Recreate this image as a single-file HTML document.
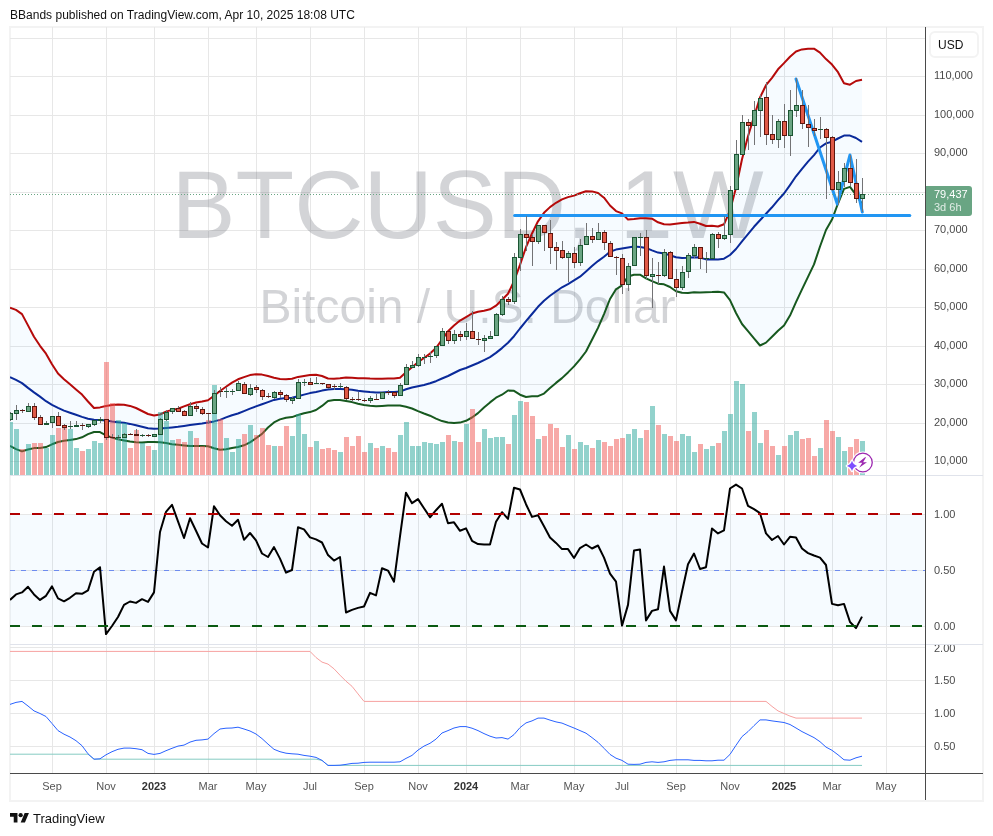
<!DOCTYPE html>
<html><head><meta charset="utf-8"><title>BBands</title>
<style>
html,body{margin:0;padding:0;background:#fff;}
body{width:993px;height:836px;position:relative;overflow:hidden;font-family:"Liberation Sans",Arial,sans-serif;color:#131722;}
.hdr{position:absolute;left:10px;top:8px;font-size:12px;line-height:14px;color:#111;white-space:nowrap;letter-spacing:0.015px;}
.frame{position:absolute;left:9px;top:26px;width:971px;height:772px;border:2px solid #f3f3f3;}
svg{position:absolute;left:0;top:0;}
.pl{position:absolute;left:934px;font-size:11px;line-height:12px;color:#4a4a4a;white-space:nowrap;}
.tl{position:absolute;top:780px;font-size:11px;line-height:12px;color:#555;white-space:nowrap;transform:translateX(-50%);}
.tl b{color:#333;}
.usd{position:absolute;left:929px;top:31px;width:50px;height:27px;border:2px solid #f3f3f3;border-radius:6px;font-size:12px;line-height:24px;text-align:left;padding-left:7px;color:#111;box-sizing:border-box;}
.tag{position:absolute;left:926px;top:186px;width:46px;height:30px;background:#69a583;border-radius:0 3px 3px 0;color:#fff;font-size:11px;line-height:13px;padding:2px 0 0 8px;box-sizing:border-box;}
.tag span{display:block;color:rgba(255,255,255,.8);}
.wm1{position:absolute;left:10px;width:915px;top:150px;text-align:center;font-size:96px;line-height:110px;color:rgba(80,83,94,.25);white-space:nowrap;}
.wm2{position:absolute;left:10px;width:915px;top:280px;text-align:center;font-size:48px;line-height:54px;color:rgba(80,83,94,.25);white-space:nowrap;}
.logo{position:absolute;left:33px;top:811px;font-size:13px;line-height:15px;color:#111;}
</style></head><body>
<div class="hdr">BBands published on TradingView.com, Apr 10, 2025 18:08 UTC</div>
<div class="frame"></div>
<svg width="993" height="836" viewBox="0 0 993 836">
<defs><clipPath id="cm"><rect x="10" y="27" width="915" height="448"/></clipPath>
<clipPath id="c2"><rect x="10" y="476" width="915" height="168"/></clipPath>
<clipPath id="c3"><rect x="10" y="645" width="915" height="128"/></clipPath></defs>
<g shape-rendering="crispEdges">
<rect x="52" y="27" width="1" height="746" fill="#e7e7e7"/>
<rect x="106" y="27" width="1" height="746" fill="#e7e7e7"/>
<rect x="154" y="27" width="1" height="746" fill="#e7e7e7"/>
<rect x="208" y="27" width="1" height="746" fill="#e7e7e7"/>
<rect x="256" y="27" width="1" height="746" fill="#e7e7e7"/>
<rect x="310" y="27" width="1" height="746" fill="#e7e7e7"/>
<rect x="364" y="27" width="1" height="746" fill="#e7e7e7"/>
<rect x="418" y="27" width="1" height="746" fill="#e7e7e7"/>
<rect x="466" y="27" width="1" height="746" fill="#e7e7e7"/>
<rect x="520" y="27" width="1" height="746" fill="#e7e7e7"/>
<rect x="574" y="27" width="1" height="746" fill="#e7e7e7"/>
<rect x="622" y="27" width="1" height="746" fill="#e7e7e7"/>
<rect x="676" y="27" width="1" height="746" fill="#e7e7e7"/>
<rect x="730" y="27" width="1" height="746" fill="#e7e7e7"/>
<rect x="784" y="27" width="1" height="746" fill="#e7e7e7"/>
<rect x="832" y="27" width="1" height="746" fill="#e7e7e7"/>
<rect x="886" y="27" width="1" height="746" fill="#e7e7e7"/>
<rect x="10" y="38" width="915" height="1" fill="#e7e7e7"/>
<rect x="10" y="76" width="915" height="1" fill="#e7e7e7"/>
<rect x="10" y="115" width="915" height="1" fill="#e7e7e7"/>
<rect x="10" y="153" width="915" height="1" fill="#e7e7e7"/>
<rect x="10" y="192" width="915" height="1" fill="#e7e7e7"/>
<rect x="10" y="230" width="915" height="1" fill="#e7e7e7"/>
<rect x="10" y="269" width="915" height="1" fill="#e7e7e7"/>
<rect x="10" y="307" width="915" height="1" fill="#e7e7e7"/>
<rect x="10" y="346" width="915" height="1" fill="#e7e7e7"/>
<rect x="10" y="384" width="915" height="1" fill="#e7e7e7"/>
<rect x="10" y="423" width="915" height="1" fill="#e7e7e7"/>
<rect x="10" y="461" width="915" height="1" fill="#e7e7e7"/>
<rect x="10" y="514" width="915" height="1" fill="#e7e7e7"/>
<rect x="10" y="570" width="915" height="1" fill="#e7e7e7"/>
<rect x="10" y="626" width="915" height="1" fill="#e7e7e7"/>
<rect x="10" y="647" width="915" height="1" fill="#e7e7e7"/>
<rect x="10" y="680" width="915" height="1" fill="#e7e7e7"/>
<rect x="10" y="713" width="915" height="1" fill="#e7e7e7"/>
<rect x="10" y="746" width="915" height="1" fill="#e7e7e7"/>
</g>
</svg>
<div class="wm1">BTCUSD, 1W</div>
<div class="wm2">Bitcoin / U.S. Dollar</div>
<svg width="993" height="836" viewBox="0 0 993 836">
<g clip-path="url(#cm)">
<polygon points="10,307.8 16,309.9 22,314.1 28,325.4 34,336.8 40,345.8 46,353.7 52,364.3 58,373.5 64,379.2 70,384.3 76,389.4 82,394.6 88,401.5 94,408 100,407.4 106,406 112,404.9 118,404.6 124,404.7 130,405.9 136,408 142,411 148,414 154,415.5 160,414.5 166,411.6 172,409.9 178,408.7 184,406.4 190,404.2 196,402.5 202,401.5 208,400.3 214,395.8 220,391 226,386.8 232,382.6 238,379.3 244,377.1 250,375.1 256,374.3 262,374.6 268,376 274,377.7 280,378.9 286,379.2 292,378.7 298,376.9 304,375.9 310,375 316,374.7 322,376 328,378.5 334,378.7 340,378.3 346,377.6 352,377.8 358,378.2 364,378.2 370,378.6 376,378.8 382,378.8 388,378.6 394,378.6 400,377.7 406,372.2 412,367.2 418,362.3 424,358 430,353.6 436,348 442,339.7 448,331.3 454,325.5 460,320.6 466,317.1 472,313.5 478,311.7 484,310.7 490,309.3 496,305.7 502,299.8 508,293.8 514,281.1 520,264.9 526,247.2 532,233.5 538,221.3 544,212.8 550,207.1 556,202.8 562,199.4 568,197.1 574,195.6 580,193.2 586,191.2 592,191.4 598,193 604,197.7 610,205.5 616,211.1 622,213.4 628,219.6 634,219.1 640,218.3 646,218.3 652,218.7 658,222.3 664,224.3 670,224.5 676,223.7 682,223.1 688,222.6 694,221.9 700,223.7 706,226 712,225.8 718,226.5 724,224.3 730,210.5 736,187.7 742,159.2 748,136.3 754,116.9 760,97.5 766,85.2 772,77.8 778,69.3 784,63.1 790,56.7 796,51.5 802,49.4 808,48.7 814,48.7 820,52.6 826,59.1 832,64.6 838,72.2 844,83.2 850,84.7 856,81 862,79.8 862,203.7 856,194.9 850,186.9 844,188.9 838,203.5 832,219.6 826,230 820,246.5 814,264.4 808,276.9 802,289.3 796,302.1 790,315.6 784,325.4 778,330.7 772,336.7 766,342.6 760,345.5 754,338.3 748,331.1 742,324 736,313 730,300.1 724,292.4 718,291.7 712,292.1 706,292.2 700,292.4 694,292.3 688,292.9 682,292.8 676,291.2 670,287 664,284.3 658,283.7 652,281.2 646,278.3 640,274.7 634,274.7 628,276.5 622,285.3 616,289.3 610,299 604,314.1 598,327.9 592,339.7 586,351.5 580,359.3 574,366.4 568,372.4 562,378.1 556,382.9 550,388.1 544,393.6 538,396.2 532,396.3 526,397 520,394.7 514,390.8 508,390.5 502,394.7 496,397.7 490,402.4 484,407.4 478,413.1 472,417.5 466,420.8 460,422.6 454,423.1 448,422.4 442,421.1 436,418.6 430,415.7 424,413.5 418,411.1 412,408.5 406,406.7 400,405.4 394,405.4 388,405.6 382,405.9 376,406.2 370,405.8 364,405 358,403.7 352,402.1 346,401.1 340,400.1 334,400.1 328,400.9 322,405.9 316,410 310,412.1 304,413.3 298,415 292,417.1 286,417.8 280,419.4 274,422.4 268,427.5 262,433.9 256,438.2 250,442.4 244,445.3 238,447 232,448.1 226,449.2 220,449.8 214,448.3 208,446.3 202,446.1 196,446.1 190,446 184,445.4 178,444.8 172,444.2 166,443 160,442.2 154,441.9 148,441.9 142,442.5 136,442.2 130,441.6 124,440.4 118,439.2 112,437.6 106,435.4 100,432.1 94,432 88,434.1 82,437.3 76,439.1 70,440 64,440.8 58,442 52,444.3 46,447.1 40,447.9 34,448.1 28,449.5 22,451.4 16,449.1 10,445.8" fill="#2196f3" fill-opacity="0.04"/>
<polyline points="10,307.8 16,309.9 22,314.1 28,325.4 34,336.8 40,345.8 46,353.7 52,364.3 58,373.5 64,379.2 70,384.3 76,389.4 82,394.6 88,401.5 94,408 100,407.4 106,406 112,404.9 118,404.6 124,404.7 130,405.9 136,408 142,411 148,414 154,415.5 160,414.5 166,411.6 172,409.9 178,408.7 184,406.4 190,404.2 196,402.5 202,401.5 208,400.3 214,395.8 220,391 226,386.8 232,382.6 238,379.3 244,377.1 250,375.1 256,374.3 262,374.6 268,376 274,377.7 280,378.9 286,379.2 292,378.7 298,376.9 304,375.9 310,375 316,374.7 322,376 328,378.5 334,378.7 340,378.3 346,377.6 352,377.8 358,378.2 364,378.2 370,378.6 376,378.8 382,378.8 388,378.6 394,378.6 400,377.7 406,372.2 412,367.2 418,362.3 424,358 430,353.6 436,348 442,339.7 448,331.3 454,325.5 460,320.6 466,317.1 472,313.5 478,311.7 484,310.7 490,309.3 496,305.7 502,299.8 508,293.8 514,281.1 520,264.9 526,247.2 532,233.5 538,221.3 544,212.8 550,207.1 556,202.8 562,199.4 568,197.1 574,195.6 580,193.2 586,191.2 592,191.4 598,193 604,197.7 610,205.5 616,211.1 622,213.4 628,219.6 634,219.1 640,218.3 646,218.3 652,218.7 658,222.3 664,224.3 670,224.5 676,223.7 682,223.1 688,222.6 694,221.9 700,223.7 706,226 712,225.8 718,226.5 724,224.3 730,210.5 736,187.7 742,159.2 748,136.3 754,116.9 760,97.5 766,85.2 772,77.8 778,69.3 784,63.1 790,56.7 796,51.5 802,49.4 808,48.7 814,48.7 820,52.6 826,59.1 832,64.6 838,72.2 844,83.2 850,84.7 856,81 862,79.8" fill="none" stroke="#b50a0a" stroke-width="2" stroke-linejoin="round"/>
<polyline points="10,377.1 16,379.8 22,383.1 28,387.9 34,392.4 40,396.6 46,401.2 52,404.8 58,407.9 64,410.6 70,412.7 76,414.8 82,416.9 88,418.7 94,419.7 100,420.1 106,420.6 112,421.5 118,422.2 124,422.8 130,423.9 136,425.3 142,426.7 148,428.2 154,428.8 160,428.6 166,428 172,427.4 178,426.8 184,425.9 190,425 196,424.2 202,423.5 208,422.6 214,421.4 220,419.9 226,417.4 232,415.2 238,413.5 244,411.1 250,408.6 256,406.4 262,404.3 268,402.1 274,399.9 280,398.7 286,398 292,397.7 298,396.3 304,394.6 310,393.1 316,392 322,390.6 328,389.4 334,389 340,389 346,389.3 352,389.8 358,390.8 364,391.5 370,392.1 376,392.4 382,392.4 388,392.1 394,391.9 400,391.6 406,389.3 412,387.5 418,386.2 424,385 430,383.2 436,381.2 442,378.5 448,376 454,373 460,370 466,368 472,365.5 478,363 484,360.1 490,357.1 496,352.9 502,348.1 508,342.7 514,336.2 520,328.5 526,321.2 532,314 538,306.8 544,300.7 550,295.8 556,291.5 562,287.3 568,284.1 574,280.4 580,276.7 586,271.5 592,266.1 598,261.1 604,256.7 610,251.7 616,249.6 622,248.5 628,247.4 634,246.6 640,247 646,247.9 652,250.4 658,252.6 664,253.4 670,255.2 676,257.2 682,258.1 688,257.8 694,257.3 700,257.6 706,259.4 712,259.3 718,259.6 724,258.7 730,255 736,249 742,241.3 748,234.1 754,226.8 760,220.3 766,213.8 772,207.3 778,200.1 784,193.5 790,185.1 796,176.3 802,168.8 808,161.6 814,155.1 820,147.5 826,143.4 832,141.7 838,138.5 844,135.6 850,135.6 856,138 862,141.8" fill="none" stroke="#0a2a9a" stroke-width="2" stroke-linejoin="round"/>
<polyline points="10,445.8 16,449.1 22,451.4 28,449.5 34,448.1 40,447.9 46,447.1 52,444.3 58,442 64,440.8 70,440 76,439.1 82,437.3 88,434.1 94,432 100,432.1 106,435.4 112,437.6 118,439.2 124,440.4 130,441.6 136,442.2 142,442.5 148,441.9 154,441.9 160,442.2 166,443 172,444.2 178,444.8 184,445.4 190,446 196,446.1 202,446.1 208,446.3 214,448.3 220,449.8 226,449.2 232,448.1 238,447 244,445.3 250,442.4 256,438.2 262,433.9 268,427.5 274,422.4 280,419.4 286,417.8 292,417.1 298,415 304,413.3 310,412.1 316,410 322,405.9 328,400.9 334,400.1 340,400.1 346,401.1 352,402.1 358,403.7 364,405 370,405.8 376,406.2 382,405.9 388,405.6 394,405.4 400,405.4 406,406.7 412,408.5 418,411.1 424,413.5 430,415.7 436,418.6 442,421.1 448,422.4 454,423.1 460,422.6 466,420.8 472,417.5 478,413.1 484,407.4 490,402.4 496,397.7 502,394.7 508,390.5 514,390.8 520,394.7 526,397 532,396.3 538,396.2 544,393.6 550,388.1 556,382.9 562,378.1 568,372.4 574,366.4 580,359.3 586,351.5 592,339.7 598,327.9 604,314.1 610,299 616,289.3 622,285.3 628,276.5 634,274.7 640,274.7 646,278.3 652,281.2 658,283.7 664,284.3 670,287 676,291.2 682,292.8 688,292.9 694,292.3 700,292.4 706,292.2 712,292.1 718,291.7 724,292.4 730,300.1 736,313 742,324 748,331.1 754,338.3 760,345.5 766,342.6 772,336.7 778,330.7 784,325.4 790,315.6 796,302.1 802,289.3 808,276.9 814,264.4 820,246.5 826,230 832,219.6 838,203.5 844,188.9 850,186.9 856,194.9 862,203.7" fill="none" stroke="#17591f" stroke-width="2" stroke-linejoin="round"/>
<g shape-rendering="crispEdges" fill="#26a69a" fill-opacity="0.5"><rect x="8" y="422" width="5" height="53"/><rect x="14" y="429" width="5" height="46"/><rect x="26" y="444" width="5" height="31"/><rect x="44" y="448" width="5" height="27"/><rect x="50" y="435" width="5" height="40"/><rect x="68" y="429" width="5" height="46"/><rect x="74" y="448" width="5" height="27"/><rect x="86" y="449" width="5" height="26"/><rect x="92" y="441" width="5" height="34"/><rect x="98" y="443" width="5" height="32"/><rect x="116" y="420" width="5" height="55"/><rect x="122" y="423" width="5" height="52"/><rect x="140" y="443" width="5" height="32"/><rect x="152" y="450" width="5" height="25"/><rect x="158" y="412" width="5" height="63"/><rect x="164" y="421" width="5" height="54"/><rect x="170" y="440" width="5" height="35"/><rect x="188" y="431" width="5" height="44"/><rect x="212" y="385" width="5" height="90"/><rect x="224" y="438" width="5" height="37"/><rect x="230" y="452" width="5" height="23"/><rect x="236" y="439" width="5" height="36"/><rect x="248" y="425" width="5" height="50"/><rect x="272" y="446" width="5" height="29"/><rect x="290" y="436" width="5" height="39"/><rect x="296" y="414" width="5" height="61"/><rect x="302" y="434" width="5" height="41"/><rect x="314" y="441" width="5" height="34"/><rect x="338" y="452" width="5" height="23"/><rect x="368" y="443" width="5" height="32"/><rect x="380" y="446" width="5" height="29"/><rect x="398" y="435" width="5" height="40"/><rect x="404" y="422" width="5" height="53"/><rect x="410" y="446" width="5" height="29"/><rect x="416" y="446" width="5" height="29"/><rect x="422" y="442" width="5" height="33"/><rect x="428" y="443" width="5" height="32"/><rect x="434" y="444" width="5" height="31"/><rect x="440" y="442" width="5" height="33"/><rect x="452" y="441" width="5" height="34"/><rect x="464" y="424" width="5" height="51"/><rect x="482" y="429" width="5" height="46"/><rect x="488" y="438" width="5" height="37"/><rect x="494" y="437" width="5" height="38"/><rect x="500" y="437" width="5" height="38"/><rect x="512" y="415" width="5" height="60"/><rect x="518" y="401" width="5" height="74"/><rect x="536" y="439" width="5" height="36"/><rect x="566" y="435" width="5" height="40"/><rect x="578" y="442" width="5" height="33"/><rect x="584" y="445" width="5" height="30"/><rect x="596" y="440" width="5" height="35"/><rect x="626" y="434" width="5" height="41"/><rect x="632" y="429" width="5" height="46"/><rect x="638" y="438" width="5" height="37"/><rect x="650" y="406" width="5" height="69"/><rect x="662" y="434" width="5" height="41"/><rect x="680" y="434" width="5" height="41"/><rect x="686" y="436" width="5" height="39"/><rect x="692" y="452" width="5" height="23"/><rect x="704" y="449" width="5" height="26"/><rect x="710" y="446" width="5" height="29"/><rect x="722" y="431" width="5" height="44"/><rect x="728" y="414" width="5" height="61"/><rect x="734" y="381" width="5" height="94"/><rect x="740" y="384" width="5" height="91"/><rect x="752" y="412" width="5" height="63"/><rect x="758" y="443" width="5" height="32"/><rect x="776" y="455" width="5" height="20"/><rect x="788" y="435" width="5" height="40"/><rect x="794" y="431" width="5" height="44"/><rect x="818" y="448" width="5" height="27"/><rect x="836" y="437" width="5" height="38"/><rect x="842" y="451" width="5" height="24"/><rect x="860" y="441" width="5" height="34"/></g>
<g shape-rendering="crispEdges" fill="#ef5350" fill-opacity="0.5"><rect x="20" y="449" width="5" height="26"/><rect x="32" y="443" width="5" height="32"/><rect x="38" y="443" width="5" height="32"/><rect x="56" y="428" width="5" height="47"/><rect x="62" y="426" width="5" height="49"/><rect x="80" y="451" width="5" height="24"/><rect x="104" y="362" width="5" height="113"/><rect x="110" y="403" width="5" height="72"/><rect x="128" y="448" width="5" height="27"/><rect x="134" y="430" width="5" height="45"/><rect x="146" y="446" width="5" height="29"/><rect x="176" y="439" width="5" height="36"/><rect x="182" y="442" width="5" height="33"/><rect x="194" y="438" width="5" height="37"/><rect x="200" y="446" width="5" height="29"/><rect x="206" y="420" width="5" height="55"/><rect x="218" y="419" width="5" height="56"/><rect x="242" y="434" width="5" height="41"/><rect x="254" y="435" width="5" height="40"/><rect x="260" y="428" width="5" height="47"/><rect x="266" y="445" width="5" height="30"/><rect x="278" y="446" width="5" height="29"/><rect x="284" y="426" width="5" height="49"/><rect x="308" y="447" width="5" height="28"/><rect x="320" y="449" width="5" height="26"/><rect x="326" y="448" width="5" height="27"/><rect x="332" y="450" width="5" height="25"/><rect x="344" y="437" width="5" height="38"/><rect x="350" y="446" width="5" height="29"/><rect x="356" y="436" width="5" height="39"/><rect x="362" y="452" width="5" height="23"/><rect x="374" y="448" width="5" height="27"/><rect x="386" y="448" width="5" height="27"/><rect x="392" y="452" width="5" height="23"/><rect x="446" y="435" width="5" height="40"/><rect x="458" y="442" width="5" height="33"/><rect x="470" y="409" width="5" height="66"/><rect x="476" y="442" width="5" height="33"/><rect x="506" y="444" width="5" height="31"/><rect x="524" y="402" width="5" height="73"/><rect x="530" y="416" width="5" height="59"/><rect x="542" y="436" width="5" height="39"/><rect x="548" y="424" width="5" height="51"/><rect x="554" y="428" width="5" height="47"/><rect x="560" y="447" width="5" height="28"/><rect x="572" y="449" width="5" height="26"/><rect x="590" y="448" width="5" height="27"/><rect x="602" y="442" width="5" height="33"/><rect x="608" y="446" width="5" height="29"/><rect x="614" y="439" width="5" height="36"/><rect x="620" y="438" width="5" height="37"/><rect x="644" y="430" width="5" height="45"/><rect x="656" y="425" width="5" height="50"/><rect x="668" y="436" width="5" height="39"/><rect x="674" y="441" width="5" height="34"/><rect x="698" y="444" width="5" height="31"/><rect x="716" y="443" width="5" height="32"/><rect x="746" y="431" width="5" height="44"/><rect x="764" y="430" width="5" height="45"/><rect x="770" y="446" width="5" height="29"/><rect x="782" y="446" width="5" height="29"/><rect x="800" y="439" width="5" height="36"/><rect x="806" y="438" width="5" height="37"/><rect x="812" y="456" width="5" height="19"/><rect x="824" y="420" width="5" height="55"/><rect x="830" y="431" width="5" height="44"/><rect x="848" y="447" width="5" height="28"/><rect x="854" y="439" width="5" height="36"/></g>
<line x1="514.6" y1="215.4" x2="909.8" y2="215.4" stroke="#2196f3" stroke-width="3" stroke-linecap="round"/>
<polyline points="796,79 837.3,204 850,155 862.3,212" fill="none" stroke="#2196f3" stroke-width="3" stroke-linejoin="round" stroke-linecap="round"/>
<line x1="10" y1="194.5" x2="925" y2="194.5" stroke="#69a583" stroke-width="1" stroke-dasharray="1 2" shape-rendering="crispEdges"/>
<g shape-rendering="crispEdges" fill="#737375"><rect x="10" y="412" width="1" height="9"/><rect x="16" y="405" width="1" height="15"/><rect x="22" y="409" width="1" height="4"/><rect x="28" y="403" width="1" height="9"/><rect x="34" y="403" width="1" height="17"/><rect x="40" y="415" width="1" height="10"/><rect x="46" y="421" width="1" height="4"/><rect x="52" y="416" width="1" height="12"/><rect x="58" y="412" width="1" height="14"/><rect x="64" y="424" width="1" height="6"/><rect x="70" y="421" width="1" height="8"/><rect x="76" y="421" width="1" height="6"/><rect x="82" y="423" width="1" height="7"/><rect x="88" y="424" width="1" height="4"/><rect x="94" y="420" width="1" height="6"/><rect x="100" y="417" width="1" height="6"/><rect x="106" y="419" width="1" height="21"/><rect x="112" y="434" width="1" height="5"/><rect x="118" y="435" width="1" height="5"/><rect x="124" y="433" width="1" height="5"/><rect x="130" y="433" width="1" height="2"/><rect x="136" y="429" width="1" height="7"/><rect x="142" y="434" width="1" height="3"/><rect x="148" y="434" width="1" height="3"/><rect x="154" y="434" width="1" height="3"/><rect x="160" y="418" width="1" height="17"/><rect x="166" y="410" width="1" height="11"/><rect x="172" y="408" width="1" height="6"/><rect x="178" y="406" width="1" height="6"/><rect x="184" y="410" width="1" height="6"/><rect x="190" y="402" width="1" height="14"/><rect x="196" y="404" width="1" height="8"/><rect x="202" y="407" width="1" height="8"/><rect x="208" y="413" width="1" height="11"/><rect x="214" y="390" width="1" height="24"/><rect x="220" y="387" width="1" height="10"/><rect x="226" y="387" width="1" height="11"/><rect x="232" y="389" width="1" height="6"/><rect x="238" y="381" width="1" height="10"/><rect x="244" y="382" width="1" height="12"/><rect x="250" y="384" width="1" height="12"/><rect x="256" y="385" width="1" height="8"/><rect x="262" y="389" width="1" height="11"/><rect x="268" y="393" width="1" height="5"/><rect x="274" y="391" width="1" height="8"/><rect x="280" y="390" width="1" height="8"/><rect x="286" y="394" width="1" height="8"/><rect x="292" y="397" width="1" height="7"/><rect x="298" y="379" width="1" height="20"/><rect x="304" y="379" width="1" height="7"/><rect x="310" y="378" width="1" height="7"/><rect x="316" y="377" width="1" height="7"/><rect x="322" y="383" width="1" height="2"/><rect x="328" y="384" width="1" height="5"/><rect x="334" y="384" width="1" height="6"/><rect x="340" y="383" width="1" height="5"/><rect x="346" y="386" width="1" height="14"/><rect x="352" y="397" width="1" height="5"/><rect x="358" y="392" width="1" height="9"/><rect x="364" y="398" width="1" height="4"/><rect x="370" y="396" width="1" height="7"/><rect x="376" y="394" width="1" height="6"/><rect x="382" y="392" width="1" height="7"/><rect x="388" y="390" width="1" height="5"/><rect x="394" y="392" width="1" height="6"/><rect x="400" y="383" width="1" height="13"/><rect x="406" y="364" width="1" height="21"/><rect x="412" y="361" width="1" height="7"/><rect x="418" y="354" width="1" height="13"/><rect x="424" y="354" width="1" height="10"/><rect x="430" y="352" width="1" height="11"/><rect x="436" y="346" width="1" height="12"/><rect x="442" y="328" width="1" height="18"/><rect x="448" y="331" width="1" height="13"/><rect x="454" y="330" width="1" height="14"/><rect x="460" y="331" width="1" height="10"/><rect x="466" y="323" width="1" height="17"/><rect x="472" y="311" width="1" height="28"/><rect x="478" y="332" width="1" height="13"/><rect x="484" y="335" width="1" height="17"/><rect x="490" y="331" width="1" height="8"/><rect x="496" y="313" width="1" height="23"/><rect x="502" y="296" width="1" height="20"/><rect x="508" y="297" width="1" height="8"/><rect x="514" y="253" width="1" height="51"/><rect x="520" y="229" width="1" height="42"/><rect x="526" y="216" width="1" height="35"/><rect x="532" y="234" width="1" height="32"/><rect x="538" y="225" width="1" height="19"/><rect x="544" y="225" width="1" height="26"/><rect x="550" y="220" width="1" height="44"/><rect x="556" y="242" width="1" height="28"/><rect x="562" y="241" width="1" height="18"/><rect x="568" y="251" width="1" height="31"/><rect x="574" y="247" width="1" height="21"/><rect x="580" y="239" width="1" height="27"/><rect x="586" y="223" width="1" height="22"/><rect x="592" y="228" width="1" height="15"/><rect x="598" y="223" width="1" height="17"/><rect x="604" y="230" width="1" height="20"/><rect x="610" y="241" width="1" height="16"/><rect x="616" y="256" width="1" height="19"/><rect x="622" y="254" width="1" height="40"/><rect x="628" y="263" width="1" height="28"/><rect x="634" y="237" width="1" height="29"/><rect x="640" y="233" width="1" height="23"/><rect x="646" y="230" width="1" height="49"/><rect x="652" y="258" width="1" height="50"/><rect x="658" y="262" width="1" height="22"/><rect x="664" y="249" width="1" height="28"/><rect x="670" y="251" width="1" height="28"/><rect x="676" y="269" width="1" height="28"/><rect x="682" y="266" width="1" height="24"/><rect x="688" y="253" width="1" height="25"/><rect x="694" y="244" width="1" height="14"/><rect x="700" y="247" width="1" height="22"/><rect x="706" y="252" width="1" height="21"/><rect x="712" y="233" width="1" height="26"/><rect x="718" y="232" width="1" height="16"/><rect x="724" y="216" width="1" height="24"/><rect x="730" y="186" width="1" height="57"/><rect x="736" y="140" width="1" height="50"/><rect x="742" y="115" width="1" height="40"/><rect x="748" y="119" width="1" height="31"/><rect x="754" y="101" width="1" height="44"/><rect x="760" y="95" width="1" height="42"/><rect x="766" y="82" width="1" height="63"/><rect x="772" y="115" width="1" height="29"/><rect x="778" y="119" width="1" height="29"/><rect x="784" y="104" width="1" height="44"/><rect x="790" y="90" width="1" height="66"/><rect x="796" y="78" width="1" height="39"/><rect x="802" y="90" width="1" height="39"/><rect x="808" y="105" width="1" height="42"/><rect x="814" y="119" width="1" height="17"/><rect x="820" y="117" width="1" height="22"/><rect x="826" y="128" width="1" height="71"/><rect x="832" y="136" width="1" height="55"/><rect x="838" y="171" width="1" height="34"/><rect x="844" y="163" width="1" height="24"/><rect x="850" y="155" width="1" height="31"/><rect x="856" y="159" width="1" height="44"/><rect x="862" y="178" width="1" height="34"/></g>
<g shape-rendering="crispEdges" fill="#6aa583" stroke="#1b5432" stroke-width="1"><rect x="8.5" y="413.5" width="4" height="6"/><rect x="14.5" y="410.5" width="4" height="3"/><rect x="26.5" y="406.5" width="4" height="5"/><rect x="44" y="423" width="5" height="2" stroke="none" fill="#1b5432"/><rect x="50.5" y="416.5" width="4" height="6"/><rect x="68" y="426" width="5" height="1" stroke="none" fill="#1b5432"/><rect x="74" y="425" width="5" height="2" stroke="none" fill="#1b5432"/><rect x="86.5" y="424.5" width="4" height="2"/><rect x="92.5" y="420.5" width="4" height="4"/><rect x="98" y="419" width="5" height="2" stroke="none" fill="#1b5432"/><rect x="116" y="437" width="5" height="1" stroke="none" fill="#1b5432"/><rect x="122.5" y="434.5" width="4" height="3"/><rect x="140" y="435" width="5" height="1" stroke="none" fill="#1b5432"/><rect x="152.5" y="434.5" width="4" height="2"/><rect x="158.5" y="419.5" width="4" height="15"/><rect x="164.5" y="412.5" width="4" height="7"/><rect x="170.5" y="408.5" width="4" height="3"/><rect x="188.5" y="406.5" width="4" height="9"/><rect x="212.5" y="393.5" width="4" height="20"/><rect x="224" y="391" width="5" height="1" stroke="none" fill="#1b5432"/><rect x="230" y="391" width="5" height="1" stroke="none" fill="#1b5432"/><rect x="236.5" y="383.5" width="4" height="7"/><rect x="248.5" y="388.5" width="4" height="6"/><rect x="272.5" y="392.5" width="4" height="5"/><rect x="290.5" y="398.5" width="4" height="2"/><rect x="296.5" y="382.5" width="4" height="16"/><rect x="302" y="382" width="5" height="1" stroke="none" fill="#1b5432"/><rect x="314" y="383" width="5" height="1" stroke="none" fill="#1b5432"/><rect x="338" y="386" width="5" height="1" stroke="none" fill="#1b5432"/><rect x="368.5" y="398.5" width="4" height="2"/><rect x="380.5" y="392.5" width="4" height="6"/><rect x="398.5" y="385.5" width="4" height="10"/><rect x="404.5" y="367.5" width="4" height="17"/><rect x="410.5" y="365.5" width="4" height="2"/><rect x="416.5" y="357.5" width="4" height="8"/><rect x="422" y="357" width="5" height="1" stroke="none" fill="#1b5432"/><rect x="428" y="356" width="5" height="1" stroke="none" fill="#1b5432"/><rect x="434.5" y="346.5" width="4" height="9"/><rect x="440.5" y="331.5" width="4" height="14"/><rect x="452.5" y="334.5" width="4" height="6"/><rect x="464.5" y="331.5" width="4" height="5"/><rect x="482.5" y="338.5" width="4" height="2"/><rect x="488.5" y="336.5" width="4" height="2"/><rect x="494.5" y="314.5" width="4" height="21"/><rect x="500.5" y="299.5" width="4" height="15"/><rect x="512.5" y="257.5" width="4" height="44"/><rect x="518.5" y="234.5" width="4" height="23"/><rect x="536.5" y="225.5" width="4" height="16"/><rect x="566.5" y="253.5" width="4" height="4"/><rect x="578.5" y="245.5" width="4" height="17"/><rect x="584.5" y="236.5" width="4" height="8"/><rect x="596.5" y="232.5" width="4" height="7"/><rect x="626.5" y="266.5" width="4" height="18"/><rect x="632.5" y="237.5" width="4" height="28"/><rect x="638" y="237" width="5" height="1" stroke="none" fill="#1b5432"/><rect x="650.5" y="274.5" width="4" height="2"/><rect x="662.5" y="252.5" width="4" height="23"/><rect x="680.5" y="272.5" width="4" height="15"/><rect x="686.5" y="255.5" width="4" height="16"/><rect x="692.5" y="247.5" width="4" height="8"/><rect x="704" y="258" width="5" height="1" stroke="none" fill="#1b5432"/><rect x="710.5" y="234.5" width="4" height="24"/><rect x="722.5" y="235.5" width="4" height="3"/><rect x="728.5" y="190.5" width="4" height="44"/><rect x="734.5" y="154.5" width="4" height="35"/><rect x="740.5" y="122.5" width="4" height="32"/><rect x="752.5" y="110.5" width="4" height="15"/><rect x="758.5" y="98.5" width="4" height="12"/><rect x="776.5" y="121.5" width="4" height="18"/><rect x="788.5" y="110.5" width="4" height="25"/><rect x="794.5" y="105.5" width="4" height="5"/><rect x="818" y="129" width="5" height="1" stroke="none" fill="#1b5432"/><rect x="836.5" y="182.5" width="4" height="7"/><rect x="842.5" y="168.5" width="4" height="13"/><rect x="860.5" y="194.5" width="4" height="4"/></g>
<g shape-rendering="crispEdges" fill="#e05a47" stroke="#5e150d" stroke-width="1"><rect x="20" y="410" width="5" height="1" stroke="none" fill="#5e150d"/><rect x="32.5" y="406.5" width="4" height="11"/><rect x="38.5" y="417.5" width="4" height="7"/><rect x="56.5" y="416.5" width="4" height="9"/><rect x="62.5" y="425.5" width="4" height="2"/><rect x="80" y="425" width="5" height="1" stroke="none" fill="#5e150d"/><rect x="104.5" y="419.5" width="4" height="18"/><rect x="110" y="437" width="5" height="1" stroke="none" fill="#5e150d"/><rect x="128" y="434" width="5" height="1" stroke="none" fill="#5e150d"/><rect x="134" y="434" width="5" height="2" stroke="none" fill="#5e150d"/><rect x="146" y="435" width="5" height="1" stroke="none" fill="#5e150d"/><rect x="176.5" y="408.5" width="4" height="3"/><rect x="182.5" y="411.5" width="4" height="4"/><rect x="194.5" y="406.5" width="4" height="2"/><rect x="200.5" y="409.5" width="4" height="4"/><rect x="206" y="413" width="5" height="1" stroke="none" fill="#5e150d"/><rect x="218" y="391" width="5" height="1" stroke="none" fill="#5e150d"/><rect x="242.5" y="384.5" width="4" height="9"/><rect x="254.5" y="387.5" width="4" height="2"/><rect x="260.5" y="390.5" width="4" height="6"/><rect x="266" y="396" width="5" height="1" stroke="none" fill="#5e150d"/><rect x="278.5" y="392.5" width="4" height="2"/><rect x="284.5" y="395.5" width="4" height="4"/><rect x="308.5" y="382.5" width="4" height="2"/><rect x="320" y="383" width="5" height="1" stroke="none" fill="#5e150d"/><rect x="326.5" y="384.5" width="4" height="3"/><rect x="332" y="386" width="5" height="1" stroke="none" fill="#5e150d"/><rect x="344.5" y="387.5" width="4" height="11"/><rect x="350" y="399" width="5" height="1" stroke="none" fill="#5e150d"/><rect x="356" y="399" width="5" height="1" stroke="none" fill="#5e150d"/><rect x="362" y="400" width="5" height="1" stroke="none" fill="#5e150d"/><rect x="374" y="399" width="5" height="1" stroke="none" fill="#5e150d"/><rect x="386" y="392" width="5" height="1" stroke="none" fill="#5e150d"/><rect x="392.5" y="392.5" width="4" height="3"/><rect x="446.5" y="331.5" width="4" height="9"/><rect x="458.5" y="334.5" width="4" height="2"/><rect x="470.5" y="331.5" width="4" height="7"/><rect x="476" y="339" width="5" height="1" stroke="none" fill="#5e150d"/><rect x="506.5" y="299.5" width="4" height="2"/><rect x="524.5" y="234.5" width="4" height="3"/><rect x="530.5" y="237.5" width="4" height="4"/><rect x="542.5" y="225.5" width="4" height="7"/><rect x="548.5" y="233.5" width="4" height="14"/><rect x="554.5" y="247.5" width="4" height="3"/><rect x="560.5" y="250.5" width="4" height="7"/><rect x="572.5" y="253.5" width="4" height="9"/><rect x="590.5" y="236.5" width="4" height="3"/><rect x="602.5" y="232.5" width="4" height="10"/><rect x="608.5" y="243.5" width="4" height="13"/><rect x="614" y="257" width="5" height="1" stroke="none" fill="#5e150d"/><rect x="620.5" y="258.5" width="4" height="26"/><rect x="644.5" y="237.5" width="4" height="38"/><rect x="656" y="275" width="5" height="1" stroke="none" fill="#5e150d"/><rect x="668.5" y="252.5" width="4" height="26"/><rect x="674.5" y="279.5" width="4" height="8"/><rect x="698.5" y="247.5" width="4" height="11"/><rect x="716.5" y="234.5" width="4" height="4"/><rect x="746.5" y="122.5" width="4" height="3"/><rect x="764.5" y="97.5" width="4" height="37"/><rect x="770.5" y="134.5" width="4" height="5"/><rect x="782.5" y="121.5" width="4" height="14"/><rect x="800.5" y="105.5" width="4" height="18"/><rect x="806.5" y="124.5" width="4" height="3"/><rect x="812.5" y="128.5" width="4" height="2"/><rect x="824.5" y="129.5" width="4" height="8"/><rect x="830.5" y="137.5" width="4" height="52"/><rect x="848.5" y="168.5" width="4" height="14"/><rect x="854.5" y="183.5" width="4" height="15"/></g>
</g>
<g>
<circle cx="862.85" cy="462.5" r="11" fill="#fff"/>
<circle cx="862.85" cy="462.5" r="9.4" fill="#fff" stroke="#9c27b0" stroke-width="1.3"/>
<polygon points="865.3,457.1 858.2,462.7 862.3,462.8 859.1,467.8 867,462.3 863.1,462.2 865.9,457.4" fill="#9c27b0"/>
<path d="M852,460.8 Q853.1,464.8 857.1,465.9 Q853.1,467 852,471 Q850.9,467 846.9,465.9 Q850.9,464.8 852,460.8Z" fill="#7c4dff" stroke="#fff" stroke-width="2.6" paint-order="stroke" stroke-linejoin="round"/>
</g>
<g clip-path="url(#c2)">
<rect x="10" y="515" width="915" height="111" fill="#2196f3" fill-opacity="0.04"/>
<line x1="10" y1="570.5" x2="925" y2="570.5" stroke="#6e8cef" stroke-width="1" stroke-dasharray="5 6" shape-rendering="crispEdges"/>
<polyline points="10,599.9 16,594.4 22,592.4 28,586.8 34,594.4 40,599.9 46,595.8 52,586.4 58,598.4 64,601.3 70,597.8 76,593.2 82,593.8 88,590.4 94,571.7 100,567.2 106,634.1 112,626 118,617 124,604.9 130,601.5 136,602.9 142,599.2 148,601.9 154,592.4 160,532 166,511.8 172,504.8 178,521.3 184,538 190,518.3 196,530.8 202,543.5 208,547.5 214,506.2 220,515.3 226,521.3 232,525.7 238,519.7 244,539.8 250,533 256,540.4 262,553.5 268,557 274,547.1 280,558.6 286,572.7 292,570 298,527.3 304,529.4 310,537.4 316,539.4 322,542.5 328,555.1 334,560.6 340,557 346,612.5 352,609.9 358,607.9 364,606.5 370,592.8 376,595.4 382,568.2 388,570.6 394,581.7 400,536.4 406,492.7 412,503.2 418,499.1 424,508.2 430,517.3 436,510.2 442,503.8 448,523.3 454,522.3 460,530.8 466,528.4 472,540.8 478,544.1 484,544.5 490,544.5 496,521.7 502,512.2 508,518.9 514,487.7 520,489.5 526,504.2 532,516.9 538,515.3 544,526.3 550,537.4 556,542.9 562,549.1 568,549.1 574,558 580,548.1 586,544.5 592,548.5 598,545.5 604,557.6 610,573.7 616,581.7 622,625.6 628,604.9 634,550.5 640,549.5 646,620.4 652,610.9 658,609.3 664,566.6 670,610.9 676,620.4 682,591.8 688,564.2 694,553.5 700,569 706,567.2 712,528.4 718,533.4 724,530.4 730,488.5 736,484.6 742,488.5 748,505.8 754,509.2 760,513.2 766,533.4 772,540 778,536 784,544.5 790,536.8 796,537.4 802,548.5 808,553.1 814,555.5 820,557.6 826,565 832,603.9 838,605.3 844,603.9 850,622 856,628.1 862,616.6" fill="none" stroke="#000" stroke-width="2" stroke-linejoin="round"/>
<line x1="10" y1="514" x2="925" y2="514" stroke="#b20000" stroke-width="2" stroke-dasharray="10 12" shape-rendering="crispEdges"/>
<line x1="10" y1="626" x2="925" y2="626" stroke="#0b5a12" stroke-width="2" stroke-dasharray="10 12" shape-rendering="crispEdges"/>
</g>
<g clip-path="url(#c3)">
<polyline points="10,651.4 16,651.4 22,651.4 28,651.4 34,651.4 40,651.4 46,651.4 52,651.4 58,651.4 64,651.4 70,651.4 76,651.4 82,651.4 88,651.4 94,651.4 100,651.4 106,651.4 112,651.4 118,651.4 124,651.4 130,651.4 136,651.4 142,651.4 148,651.4 154,651.4 160,651.4 166,651.4 172,651.4 178,651.4 184,651.4 190,651.4 196,651.4 202,651.4 208,651.4 214,651.4 220,651.4 226,651.4 232,651.4 238,651.4 244,651.4 250,651.4 256,651.4 262,651.4 268,651.4 274,651.4 280,651.4 286,651.4 292,651.4 298,651.4 304,651.4 310,651.4 316,657.5 322,662.1 328,664.1 334,668.8 340,675.2 346,681.2 352,686.3 358,693.9 364,701.4 370,701.4 376,701.4 382,701.4 388,701.4 394,701.4 400,701.4 406,701.4 412,701.4 418,701.4 424,701.4 430,701.4 436,701.4 442,701.4 448,701.4 454,701.4 460,701.4 466,701.4 472,701.4 478,701.4 484,701.4 490,701.4 496,701.4 502,701.4 508,701.4 514,701.4 520,701.4 526,701.4 532,701.4 538,701.4 544,701.4 550,701.4 556,701.4 562,701.4 568,701.4 574,701.4 580,701.4 586,701.4 592,701.4 598,701.4 604,701.4 610,701.4 616,701.4 622,701.4 628,701.4 634,701.4 640,701.4 646,701.4 652,701.4 658,701.4 664,701.4 670,701.4 676,701.4 682,701.4 688,701.4 694,701.4 700,701.4 706,701.4 712,701.4 718,701.4 724,701.4 730,701.4 736,701.4 742,701.4 748,701.4 754,701.4 760,701.4 766,701.4 772,706.4 778,710.9 784,713.5 790,716.1 796,718.1 802,718.1 808,718.1 814,718.1 820,718.1 826,718.1 832,718.1 838,718.1 844,718.1 850,718.1 856,718.1 862,718.1" fill="none" stroke="#f7a1a0" stroke-width="1"/>
<polyline points="10,754.2 16,754.2 22,754.2 28,754.2 34,754.2 40,754.2 46,754.2 52,754.2 58,754.2 64,754.2 70,754.2 76,754.2 82,754.2 88,754.2 94,759.2 100,759.2 106,759.2 112,759.2 118,759.2 124,759.2 130,759.2 136,759.2 142,759.2 148,759.2 154,759.2 160,759.2 166,759.2 172,759.2 178,759.2 184,759.2 190,759.2 196,759.2 202,759.2 208,759.2 214,759.2 220,759.2 226,759.2 232,759.2 238,759.2 244,759.2 250,759.2 256,759.2 262,759.2 268,759.2 274,759.2 280,759.2 286,759.2 292,759.2 298,759.2 304,759.2 310,759.2 316,759.2 322,760.4 328,765.4 334,765.4 340,765.4 346,765.4 352,765.4 358,765.4 364,765.4 370,765.4 376,765.4 382,765.4 388,765.4 394,765.4 400,765.4 406,765.4 412,765.4 418,765.4 424,765.4 430,765.4 436,765.4 442,765.4 448,765.4 454,765.4 460,765.4 466,765.4 472,765.4 478,765.4 484,765.4 490,765.4 496,765.4 502,765.4 508,765.4 514,765.4 520,765.4 526,765.4 532,765.4 538,765.4 544,765.4 550,765.4 556,765.4 562,765.4 568,765.4 574,765.4 580,765.4 586,765.4 592,765.4 598,765.4 604,765.4 610,765.4 616,765.4 622,765.4 628,765.4 634,765.4 640,765.4 646,765.4 652,765.4 658,765.4 664,765.4 670,765.4 676,765.4 682,765.4 688,765.4 694,765.4 700,765.4 706,765.4 712,765.4 718,765.4 724,765.4 730,765.4 736,765.4 742,765.4 748,765.4 754,765.4 760,765.4 766,765.4 772,765.4 778,765.4 784,765.4 790,765.4 796,765.4 802,765.4 808,765.4 814,765.4 820,765.4 826,765.4 832,765.4 838,765.4 844,765.4 850,765.4 856,765.4 862,765.4" fill="none" stroke="#86cbc3" stroke-width="1"/>
<polyline points="10,704.4 16,702.4 22,701.4 28,706 34,710.9 40,713.5 46,716.5 52,723.5 58,730.6 64,734.2 70,737 76,740.7 82,745.7 88,753.8 94,759.2 100,758.8 106,754.8 112,751.7 118,749.3 124,748.1 130,748.1 136,748.7 142,749.7 148,753.4 154,754.4 160,753.4 166,750.7 172,748.3 178,746.1 184,745.1 190,742.1 196,740.3 202,739.9 208,739.1 214,733.6 220,729 226,728.2 232,728 238,727.2 244,729 250,731 256,734 262,738.6 268,744.1 274,749.3 280,751.7 286,753.2 292,753.8 298,754.2 304,755.4 310,756.2 316,757.4 322,760.4 328,765.4 334,765.4 340,765.2 346,764.4 352,763.4 358,763.2 364,762.4 370,762.2 376,762.2 382,762.2 388,762.2 394,762.2 400,761.8 406,758.4 412,755.4 418,750.1 424,746.1 430,743.3 436,739.1 442,733 448,730.6 454,728 460,726.6 466,726.6 472,728.2 478,730.6 484,733.6 490,736.2 496,738 502,737.6 508,739.1 514,734.6 520,727.6 526,722.9 532,720.9 538,718.1 544,718.1 550,720.1 556,721.9 562,723.1 568,725.6 574,728 580,730.6 586,733.2 592,737.6 598,742.3 604,748.3 610,754.4 616,758.2 622,760.4 628,764.2 634,764.4 640,764.2 646,762.4 652,761.8 658,762.4 664,761.8 670,760.4 676,759.8 682,759.8 688,759.8 694,760.4 700,760.4 706,760.8 712,760.8 718,760.2 724,760.2 730,754.4 736,745.3 742,736.6 748,731.6 754,725.6 760,719.9 766,719.9 772,720.9 778,721.7 784,722.5 790,724.5 796,728 802,731.6 808,734.6 814,737.6 820,741.7 826,747.1 832,750.3 838,754.8 844,759.8 850,760.2 856,757.8 862,756.2" fill="none" stroke="#2962ff" stroke-width="1" stroke-linejoin="round"/>
</g>
<g shape-rendering="crispEdges">
<rect x="10" y="475" width="973" height="1" fill="#e0e3eb"/>
<rect x="10" y="644" width="973" height="1" fill="#e0e3eb"/>
<rect x="925" y="27" width="1" height="773" fill="#4a4a4a"/>
<rect x="10" y="773" width="973" height="1" fill="#4a4a4a"/>
</g>
</svg>
<div class="usd">USD</div>
<div class="pl" style="top:454px">10,000</div>
<div class="pl" style="top:416px">20,000</div>
<div class="pl" style="top:377px">30,000</div>
<div class="pl" style="top:339px">40,000</div>
<div class="pl" style="top:300px">50,000</div>
<div class="pl" style="top:262px">60,000</div>
<div class="pl" style="top:223px">70,000</div>
<div class="pl" style="top:185px">80,000</div>
<div class="pl" style="top:146px">90,000</div>
<div class="pl" style="top:108px">100,000</div>
<div class="pl" style="top:69px">110,000</div>
<div class="pl" style="top:508px">1.00</div>
<div class="pl" style="top:564px">0.50</div>
<div class="pl" style="top:620px">0.00</div>
<div style="position:absolute;left:926px;top:645px;width:56px;height:128px;overflow:hidden"><div class="pl" style="left:8px;top:-3px">2.00</div><div class="pl" style="left:8px;top:29px">1.50</div><div class="pl" style="left:8px;top:62px">1.00</div><div class="pl" style="left:8px;top:95px">0.50</div></div>
<div class="tag">79,437<span>3d 6h</span></div>
<div class="tl" style="left:52px">Sep</div>
<div class="tl" style="left:106px">Nov</div>
<div class="tl" style="left:154px"><b>2023</b></div>
<div class="tl" style="left:208px">Mar</div>
<div class="tl" style="left:256px">May</div>
<div class="tl" style="left:310px">Jul</div>
<div class="tl" style="left:364px">Sep</div>
<div class="tl" style="left:418px">Nov</div>
<div class="tl" style="left:466px"><b>2024</b></div>
<div class="tl" style="left:520px">Mar</div>
<div class="tl" style="left:574px">May</div>
<div class="tl" style="left:622px">Jul</div>
<div class="tl" style="left:676px">Sep</div>
<div class="tl" style="left:730px">Nov</div>
<div class="tl" style="left:784px"><b>2025</b></div>
<div class="tl" style="left:832px">Mar</div>
<div class="tl" style="left:886px">May</div>
<svg style="left:10px;top:813px" width="19.2" height="9.6" viewBox="0 4 36 18"><path fill="#111" d="M14 22H7V11H0V4h14v18zM28 22h-8l7.5-18h8L28 22z"/><circle cx="20" cy="8" r="4" fill="#111"/></svg>
<div class="logo">TradingView</div>
</body></html>
